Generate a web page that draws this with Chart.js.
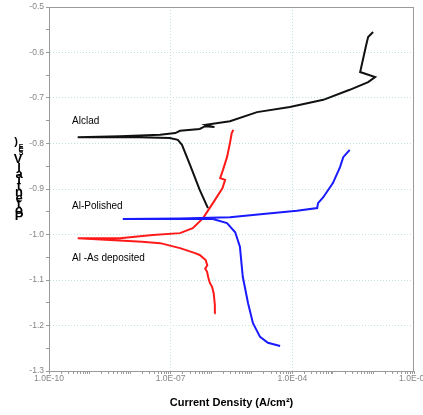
<!DOCTYPE html>
<html>
<head>
<meta charset="utf-8">
<script src="https://cdn.jsdelivr.net/npm/chart.js@4/dist/chart.umd.min.js"></script>
<style>
  html, body { margin: 0; padding: 0; background: #fff; }
  #wrap { width: 423px; height: 415px; }
</style>
</head>
<body>
<div id="wrap"><canvas id="mycanvas" width="423" height="415"></canvas></div>
<script>
// polarization curves, current density (A/cm2) vs potential (V SCE)
var alcladCurrent = [8.3e-7, 5.2e-7, 3.0e-7, 1.9e-7, 1.5e-7, 9.5e-8, 1.7e-8, 1.8e-9, 5.1e-10, 5.6e-9, 5.5e-8, 1.3e-7, 1.7e-7, 5.2e-7, 7.1e-7, 1.2e-6, 7.4e-7, 2.9e-6, 1.35e-5, 8.7e-5, 5.8e-4, 2.6e-3, 7.4e-3, 1.1e-2, 4.7e-3, 5.5e-3, 6.6e-3, 7.4e-3, 9.8e-3];
var alcladPotential = [-0.942, -0.902, -0.847, -0.803, -0.792, -0.788, -0.786, -0.786, -0.786, -0.784, -0.781, -0.777, -0.772, -0.768, -0.762, -0.764, -0.759, -0.751, -0.731, -0.720, -0.704, -0.682, -0.665, -0.654, -0.643, -0.616, -0.584, -0.566, -0.555];

var polishedCurrent = [5.0e-5, 2.5e-5, 1.6e-5, 1.07e-5, 8.1e-6, 6.0e-6, 5.1e-6, 3.9e-6, 2.45e-6, 1.1e-6, 1.7e-7, 6.6e-9, 1.7e-7, 2.9e-6, 1.9e-5, 1.3e-4, 4.1e-4, 4.3e-4, 5.8e-4, 1.0e-3, 1.5e-3, 1.8e-3, 2.6e-3];
var polishedPotential = [-1.245, -1.238, -1.225, -1.195, -1.151, -1.093, -1.027, -0.995, -0.975, -0.966, -0.966, -0.966, -0.965, -0.962, -0.955, -0.948, -0.942, -0.931, -0.918, -0.887, -0.852, -0.830, -0.814];

var depositedCurrent = [1.2e-6, 1.23e-6, 1.15e-6, 1.05e-6, 9.3e-7, 8.5e-7, 7.9e-7, 7.1e-7, 8.0e-7, 7.3e-7, 5.2e-7, 4.0e-7, 1.7e-7, 5.5e-8, 1.95e-8, 3.2e-9, 5.1e-10, 5.6e-9, 3.6e-8, 1.7e-7, 3.5e-7, 6.3e-7, 1.1e-6, 1.9e-6, 2.2e-6, 1.66e-6, 1.95e-6, 2.45e-6, 2.9e-6, 3.2e-6, 3.5e-6];
var depositedPotential = [-1.173, -1.155, -1.129, -1.115, -1.107, -1.095, -1.082, -1.075, -1.068, -1.056, -1.045, -1.041, -1.030, -1.019, -1.016, -1.012, -1.008, -1.008, -1.001, -0.997, -0.986, -0.964, -0.931, -0.898, -0.880, -0.876, -0.858, -0.830, -0.799, -0.777, -0.770];

var xTickValues = [1e-10, 1e-7, 1e-4, 1e-1];
var xTickLabels = ["1.0E-10", "1.0E-07", "1.0E-04", "1.0E-01"];

// text labels placed in data units
var seriesNames = ["Alclad", "Al-Polished", "Al -As deposited"];
var nameCurrent = [3.7e-10, 3.7e-10, 3.7e-10];
var namePotential = [-0.751, -0.937, -1.052];

var xTitle = "Current Density (A/cm\u00b2)";

function toPoints(xs, ys) {
    var pts = [];
    for (var i = 0; i < xs.length; i++) {
        pts.push({x: xs[i], y: ys[i]});
    }
    return pts;
}

function isMajorX(v) {
    for (var i = 0; i < xTickValues.length; i++) {
        if (Math.abs(Math.log10(v) - Math.log10(xTickValues[i])) < 1e-6) return i;
    }
    return -1;
}

function isMajorY(v) {
    return Math.abs(v * 10 - Math.round(v * 10)) < 1e-6;
}

var gridColor = "#bfe3e3";
var axisColor = "#9a9a9a";
var tickText = "#858585";

var extras = {
    id: "extras",
    afterDraw: function (chart) {
        var ctx = chart.ctx;
        var a = chart.chartArea;
        var xs = chart.scales.x, ys = chart.scales.y;
        ctx.save();
        // frame
        ctx.strokeStyle = axisColor;
        ctx.lineWidth = 1;
        ctx.strokeRect(a.left + 0.5, a.top + 0.5, a.right - a.left - 1, a.bottom - a.top);

        // series names
        ctx.fillStyle = "#000";
        ctx.font = "10px 'Liberation Sans', Arial, sans-serif";
        ctx.textBaseline = "middle";
        ctx.textAlign = "left";
        for (var i = 0; i < seriesNames.length; i++) {
            ctx.fillText(seriesNames[i], xs.getPixelForValue(nameCurrent[i]), ys.getPixelForValue(namePotential[i]));
        }

        // x title
        ctx.font = "bold 11px 'Liberation Sans', Arial, sans-serif";
        ctx.textAlign = "center";
        ctx.fillText(xTitle, (a.left + a.right) / 2, 403);

        // y title, glyphs stacked upright (as in the source figure)
        var main = "Potential";
        var y = 220;
        ctx.font = "bold 13px 'Liberation Sans', Arial, sans-serif";
        ctx.textBaseline = "alphabetic";
        for (var k = 0; k < main.length; k++) {
            ctx.fillText(main[k], 19, y);
            y -= 6;
        }
        y -= 3;
        ctx.fillText("V", 18, y);
        y -= 8;
        ctx.font = "bold 7px 'Liberation Sans', Arial, sans-serif";
        var sub = "SCE";
        for (var m = 0; m < sub.length; m++) {
            ctx.fillText(sub[m], 21, y);
            y -= 3;
        }
        ctx.font = "bold 11px 'Liberation Sans', Arial, sans-serif";
        ctx.fillText(")", 16, y - 1);
        ctx.restore();
    }
};

var ctx = document.getElementById("mycanvas");

var chartdata = {
    datasets: [
        {
            label: "Alclad",
            data: toPoints(alcladCurrent, alcladPotential),
            borderColor: "#111111",
            backgroundColor: "#111111"
        },
        {
            label: "Al-Polished",
            data: toPoints(polishedCurrent, polishedPotential),
            borderColor: "#1a1aff",
            backgroundColor: "#1a1aff"
        },
        {
            label: "Al -As deposited",
            data: toPoints(depositedCurrent, depositedPotential),
            borderColor: "#ff1a1a",
            backgroundColor: "#ff1a1a"
        }
    ]
};

var graph = new Chart(ctx, {
    type: "scatter",
    data: chartdata,
    options: {
        responsive: false,
        animation: false,
        devicePixelRatio: 1,
        showLine: true,
        elements: {
            point: {radius: 0},
            line: {borderWidth: 2, tension: 0}
        },
        layout: {padding: {top: 7, right: 9, left: 0, bottom: 0}},
        plugins: {
            legend: {display: false},
            tooltip: {enabled: false}
        },
        scales: {
            x: {
                type: "logarithmic",
                min: 1e-10,
                max: 1e-1,
                afterBuildTicks: function (scale) {
                    var t = [];
                    for (var e = -10; e <= -1; e++) {
                        for (var d = 1; d <= 9; d++) {
                            var v = d * Math.pow(10, e);
                            if (v > 1.0001e-1) break;
                            t.push({value: v});
                        }
                    }
                    scale.ticks = t;
                },
                afterFit: function (scale) {
                    scale.height = 44;
                    scale.paddingLeft = 0;
                    scale.paddingRight = 0;
                },
                ticks: {
                    autoSkip: false,
                    maxRotation: 0,
                    minRotation: 0,
                    padding: 0,
                    color: tickText,
                    font: {size: 8.5, family: "'Liberation Sans', Arial, sans-serif"},
                    callback: function (value) {
                        var i = isMajorX(value);
                        return i >= 0 ? xTickLabels[i] : "";
                    }
                },
                grid: {
                    color: function (c) {
                        if (!c.tick) return "transparent";
                        var i = isMajorX(c.tick.value);
                        return (i > 0 && i < xTickValues.length - 1) ? gridColor : "transparent";
                    },
                    tickColor: axisColor,
                    tickLength: 3,
                    tickBorderDash: [],
                    lineWidth: 1
                },
                border: {color: axisColor, dash: [1, 2]}
            },
            y: {
                min: -1.3,
                max: -0.5,
                afterFit: function (scale) {
                    scale.width = 49;
                    scale.paddingTop = 0;
                    scale.paddingBottom = 0;
                },
                ticks: {
                    stepSize: 0.05,
                    autoSkip: false,
                    padding: 2,
                    color: tickText,
                    font: {size: 8.5, family: "'Liberation Sans', Arial, sans-serif"},
                    callback: function (value) {
                        return isMajorY(value) ? value.toFixed(1) : "";
                    }
                },
                grid: {
                    color: function (c) {
                        if (!c.tick) return "transparent";
                        var v = c.tick.value;
                        return (isMajorY(v) && v > -1.29 && v < -0.51) ? gridColor : "transparent";
                    },
                    tickColor: axisColor,
                    tickLength: 3,
                    tickBorderDash: [],
                    lineWidth: 1
                },
                border: {color: axisColor, dash: [1, 2]}
            }
        }
    },
    plugins: [extras]
});
</script>
</body>
</html>
